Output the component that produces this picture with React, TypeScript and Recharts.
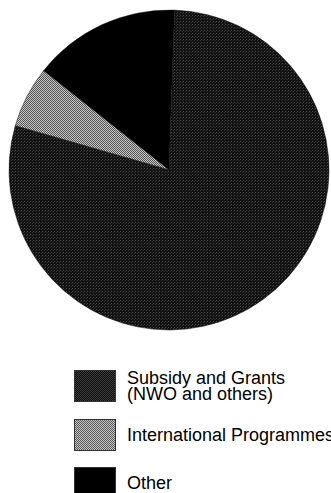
import { PieChart, Pie, Cell } from 'recharts';

// slice order follows the pie going counter-clockwise from 12 o'clock
const sliceNames = ['Other', 'International Programmes', 'Subsidy and Grants'];
const sliceShares = [14.9, 6.2, 78.9];

// legend order as printed under the chart
const legendLabels = [
  'Subsidy and Grants\n(NWO and others)',
  'International Programmes',
  'Other',
];
const legendKeys = ['Subsidy and Grants', 'International Programmes', 'Other'];

const fills: Record<string, string> = {
  'Subsidy and Grants': 'url(#dotsDark)',
  'International Programmes': 'url(#checkLight)',
  Other: '#000000',
};

const swatches: Record<string, string> = {
  'Subsidy and Grants':
    'repeating-conic-gradient(#101010 0 25%, #3a3a3a 0 50%) 0 0/2px 2px',
  'International Programmes':
    'repeating-conic-gradient(#5a5a5a 0 25%, #c4c4c4 0 50%) 0 0/2px 2px',
  Other: '#000000',
};

const pieData = sliceNames.map((name, i) => ({ name, value: sliceShares[i] }));

export default function App() {
  return (
    <div
      style={{
        position: 'absolute',
        top: 0,
        left: 0,
        width: 331,
        height: 493,
        overflow: 'hidden',
        background: '#fff',
        fontFamily: '"Liberation Sans", Arial, sans-serif',
      }}
    >
      <PieChart
        width={331}
        height={345}
        margin={{ top: 0, right: 0, bottom: 0, left: 0 }}
      >
        <defs>
          <pattern
            id="dotsDark"
            width="3"
            height="3"
            patternUnits="userSpaceOnUse"
          >
            <rect width="3" height="3" fill="#121212" />
            <rect x="0" y="0" width="1" height="1" fill="#4a4a4a" />
            <rect x="2" y="1" width="1" height="1" fill="#333" />
          </pattern>
          <pattern
            id="checkLight"
            width="2"
            height="2"
            patternUnits="userSpaceOnUse"
          >
            <rect width="2" height="2" fill="#c6c6c6" />
            <rect x="0" y="0" width="1" height="1" fill="#555" />
            <rect x="1" y="1" width="1" height="1" fill="#555" />
          </pattern>
        </defs>
        <Pie
          data={pieData}
          dataKey="value"
          nameKey="name"
          cx={169}
          cy={170}
          outerRadius={160}
          startAngle={88}
          endAngle={448}
          stroke="#111"
          strokeWidth={0.5}
          isAnimationActive={false}
        >
          {pieData.map((d) => (
            <Cell key={d.name} fill={fills[d.name]} />
          ))}
        </Pie>
      </PieChart>
      {legendKeys.map((key, i) => (
        <div
          key={key}
          style={{
            position: 'absolute',
            left: 74,
            top: 370 + i * 48.5,
            width: 320,
            display: 'flex',
            alignItems: 'center',
          }}
        >
          <div
            style={{
              width: 42,
              height: 32,
              background: swatches[key],
              boxSizing: 'border-box',
              border: '1px solid #333',
              flexShrink: 0,
            }}
          />
          <div
            style={{
              marginLeft: 11,
              fontSize: 18,
              lineHeight: '16px',
              color: '#000',
              whiteSpace: 'pre',
              flexShrink: 0,
            }}
          >
            {legendLabels[i]}
          </div>
        </div>
      ))}
    </div>
  );
}
